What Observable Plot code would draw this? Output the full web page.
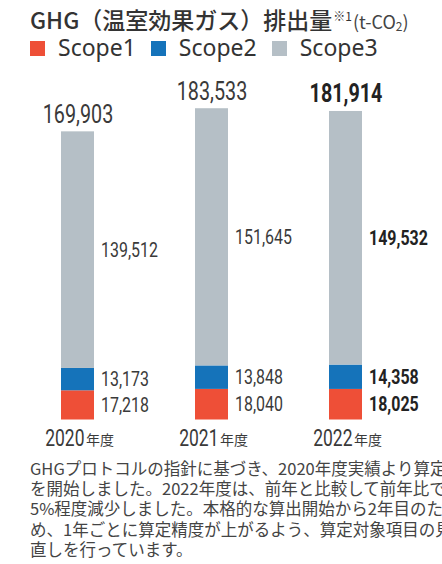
<!DOCTYPE html>
<html><head><meta charset="utf-8">
<script src="https://cdn.jsdelivr.net/npm/d3@7"></script>
<script src="https://cdn.jsdelivr.net/npm/@observablehq/plot@0.6"></script>
<style>
html,body{margin:0;padding:0;background:#fff;}
body{width:442px;height:564px;overflow:hidden;position:relative;font-family:"Noto Sans CJK JP","Noto Sans",sans-serif;color:#333;}
#title{position:absolute;left:30px;top:4px;white-space:nowrap;font-size:23px;font-weight:500;color:#333;line-height:30px;}
#title .sup{font-size:12px;font-weight:400;position:relative;top:-8px;margin-left:1px;}
#title .unit{font-size:18px;font-weight:400;color:#444;margin-left:1px;}
#legend{position:absolute;left:30px;top:31px;white-space:nowrap;font-family:"Noto Sans","Open Sans",sans-serif;font-size:23px;line-height:32px;color:#333;display:flex;align-items:center;}
#legend span.item{display:flex;align-items:center;margin-right:15px;}
#legend i{display:inline-block;width:15px;height:15px;margin-right:13px;position:relative;top:1px;}
#chart{position:absolute;left:0;top:62px;}
#caption{position:absolute;left:30px;top:458px;white-space:nowrap;font-size:16.5px;line-height:20.2px;color:#444;}
</style></head>
<body>
<div id="title"></div>
<div id="legend"></div>
<div id="chart"></div>
<div id="caption"></div>
<script>
const years = ["2020", "2021", "2022"];
const scope1 = [17218, 18040, 18025];
const scope2 = [13173, 13848, 14358];
const scope3 = [139512, 151645, 149532];
const totals = [169903, 183533, 181914];
const seriesNames = ["Scope1", "Scope2", "Scope3"];
const seriesColors = ["#EE4F37", "#1573BA", "#B5BFC6"];
const titleText = "GHG（温室効果ガス）排出量";
const yearSuffix = "年度";
const captionLines = [
  "GHGプロトコルの指針に基づき、2020年度実績より算定",
  "を開始しました。2022年度は、前年と比較して前年比で",
  "5%程度減少しました。本格的な算出開始から2年目のた",
  "め、1年ごとに算定精度が上がるよう、算定対象項目の見",
  "直しを行っています。"
];

document.getElementById("title").innerHTML =
  titleText + '<span class="sup">※1</span><span class="unit">(t-CO<span style="font-size:12px;position:relative;top:2px">2</span>)</span>';
document.getElementById("legend").innerHTML = seriesNames.map((n, i) =>
  `<span class="item"><i style="background:${seriesColors[i]}"></i>${n}</span>`).join("");
document.getElementById("caption").innerHTML = captionLines.join("<br>");

const fmt = d3.format(",");
const rows = [];
years.forEach((yr, i) => {
  const vals = [scope1[i], scope2[i], scope3[i]];
  let acc = 0;
  vals.forEach((v, j) => {
    rows.push({year: yr, series: seriesNames[j], value: v, y1: acc, y2: acc + v, mid: acc + v / 2, bold: yr === "2022"});
    acc += v;
  });
});
const totalRows = years.map((yr, i) => ({year: yr, total: totals[i], bold: yr === "2022"}));

const numFont = "Roboto, sans-serif";
const numColor = "#3a3a3a";
const boldColor = "#222";

const plot = Plot.plot({
  width: 442,
  height: 392,
  margin: 0,
  x: {domain: years, range: [60, 362], paddingInner: 0.755, paddingOuter: 0, axis: null},
  y: {domain: [0, 200000], range: [357.5, 18.3], axis: null},
  color: {domain: seriesNames, range: seriesColors},
  marks: [
    Plot.rectY(rows, {x: "year", y1: "y1", y2: "y2", fill: "series"}),
    Plot.text(rows.filter(d => !d.bold), {x: "year", y: "mid", text: d => fmt(d.value), textAnchor: "start", dx: 23, fontSize: 21, fill: numColor, fontFamily: numFont}),
    Plot.text(rows.filter(d => d.bold), {x: "year", y: "mid", text: d => fmt(d.value), textAnchor: "start", dx: 23, fontSize: 21, fontWeight: "bold", fill: boldColor, fontFamily: numFont}),
    Plot.text(totalRows.filter(d => !d.bold), {x: "year", y: "total", text: d => fmt(d.total), lineAnchor: "bottom", dy: -9, fontSize: 26, fill: numColor, fontFamily: numFont}),
    Plot.text(totalRows.filter(d => d.bold), {x: "year", y: "total", text: d => fmt(d.total), lineAnchor: "bottom", dy: -9, fontSize: 26, fontWeight: "bold", fill: boldColor, fontFamily: numFont}),
    Plot.text(years, {x: d => d, y: () => 0, text: d => d, textAnchor: "end", lineAnchor: "bottom", dx: 6.5, dy: 26, fontSize: 23, fill: numColor, fontFamily: numFont}),
    Plot.text(years, {x: d => d, y: () => 0, text: () => yearSuffix, textAnchor: "start", lineAnchor: "bottom", dx: 8, dy: 25, fontSize: 14, fill: numColor, fontFamily: "'Noto Sans CJK JP',sans-serif"})
  ]
});
// condense the numeric labels horizontally (the reference uses a condensed face)
d3.select(plot).selectAll('g[font-family^="Roboto"] text').each(function() {
  const el = this;
  let t = el.getAttribute("transform");
  if (!t) {
    const x = el.getAttribute("x") || 0, y = el.getAttribute("y") || 0;
    el.removeAttribute("x"); el.removeAttribute("y");
    t = `translate(${x},${y})`;
  }
  el.setAttribute("transform", t + " scale(0.76,1)");
});
document.getElementById("chart").appendChild(plot);
</script>
</body></html>
